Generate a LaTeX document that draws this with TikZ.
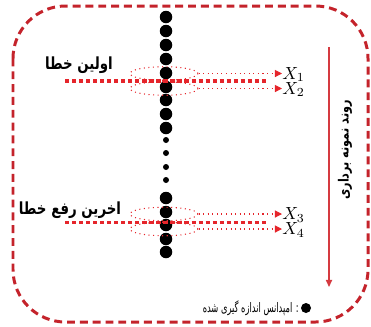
\documentclass[tikz,border=0pt]{standalone}
\usepackage{fontspec}
\usepackage{xcolor}
\usepackage{tikz}
\usetikzlibrary{shapes.geometric,arrows.meta}
\TeXXeTstate=1
\newfontfamily\farsifont[Script=Arabic,FakeStretch=0.8]{DejaVu Sans}
\newfontfamily\farsilegend[Script=Arabic,FakeStretch=0.63]{DejaVu Sans}
\definecolor{framered}{HTML}{C4232B}
\definecolor{errred}{HTML}{E5252B}
\definecolor{trendred}{HTML}{D53A40}

\begin{document}
\begin{tikzpicture}[x=0.02cm,y=-0.02cm,
  ringbox/.style={ellipse,draw=errred,dotted,line width=0.6pt,minimum width=1.36cm,minimum height=0.27cm,inner sep=0pt},
  probearrow/.style={errred,dotted,line width=0.6pt,-{Triangle[length=4pt,width=4pt]}},
  errline/.style={errred,line width=2pt,dash pattern=on 2.4pt off 1.6pt},
  xlabel/.style={anchor=west,inner sep=0pt,font=\fontsize{10}{12}\selectfont},
  farsilabel/.style={font=\farsifont\bfseries\fontsize{9.5}{11}\selectfont,inner sep=0pt}]
  \useasboundingbox (0,0) rectangle (371,326);
  \draw[framered,line width=1.7pt,dash pattern=on 4.5pt off 2.8pt,rounded corners=1.05cm] (13,6) rectangle (368,322);

  \fill (166,17) circle[radius=0.125cm];
  \fill (166,31) circle[radius=0.125cm];
  \fill (166,45) circle[radius=0.125cm];
  \fill (166,59) circle[radius=0.125cm];
  \fill (166,73) circle[radius=0.125cm];
  \fill (166,87) circle[radius=0.125cm];
  \fill (166,100) circle[radius=0.125cm];
  \fill (166,114) circle[radius=0.125cm];
  \fill (166,128) circle[radius=0.125cm];
  \fill (166,140) circle[radius=0.06cm];
  \fill (166,153) circle[radius=0.06cm];
  \fill (166,167) circle[radius=0.06cm];
  \fill (166,180) circle[radius=0.06cm];
  \fill (166,198) circle[radius=0.125cm];
  \fill (166,212) circle[radius=0.125cm];
  \fill (166,225) circle[radius=0.125cm];
  \fill (166,239) circle[radius=0.125cm];
  \fill (166,252) circle[radius=0.125cm];

  \node[ringbox] (e1) at (164,73.5) {};
  \node[ringbox] (e2) at (164,88.5) {};
  \node[ringbox] (e3) at (164,214) {};
  \node[ringbox] (e4) at (164,229) {};

  \node[xlabel] (x1) at (282,74.5) {$X_1$};
  \node[xlabel] (x2) at (282,89.5) {$X_2$};
  \node[xlabel] (x3) at (282,215) {$X_3$};
  \node[xlabel] (x4) at (282,230) {$X_4$};

  \draw[probearrow] (e1.east) -- (e1.east -| x1.west);
  \draw[probearrow] (e2.east) -- (e2.east -| x2.west);
  \draw[probearrow] (e3.east) -- (e3.east -| x3.west);
  \draw[probearrow] (e4.east) -- (e4.east -| x4.west);

  \coordinate (err1a) at (65,81);
  \coordinate (err1b) at (268,81);
  \coordinate (err2a) at (65,222.5);
  \coordinate (err2b) at (268,222.5);
  \draw[errline] (err1a) -- (err1b);
  \draw[errline] (err2a) -- (err2b);

  \node[farsilabel] (first) at (79,65) {\beginR اولین خطا\endR};
  \node[farsilabel] (last) at (70,210) {\beginR اخرین رفع خطا\endR};

  \coordinate (trendtop) at (329,47);
  \coordinate (trendend) at (329,287);
  \draw[trendred,line width=0.7pt,-{Triangle[length=4pt,width=3.5pt]}] (trendtop) -- (trendend);
  \node[farsilabel,font=\farsifont\bfseries\fontsize{8}{10}\selectfont,rotate=90] (trend) at (345,150) {\beginR روند نمونه برداری\endR};

  \fill (306,308) circle[radius=0.1cm];
  \node[font=\farsilegend\fontsize{7.5}{9}\selectfont,anchor=east,inner sep=0pt] (legend) at (299,308) {\beginR: امپدانس اندازه گیری شده\endR};
\end{tikzpicture}
\end{document}
